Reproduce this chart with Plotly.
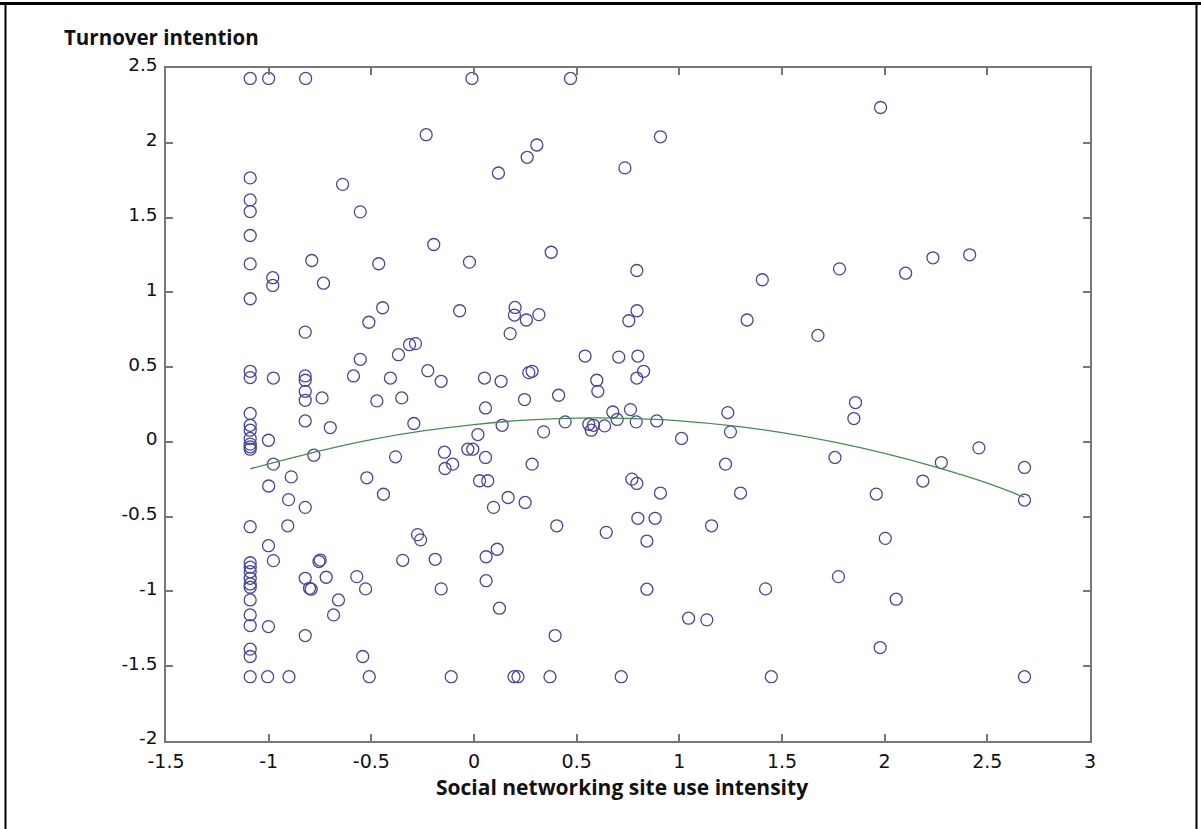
import plotly.graph_objects as go

# ---- data ----
col_x = -1.09
col_y = [2.43, 1.765, 1.618, 1.54, 1.38, 1.19, 0.957, 0.472, 0.43, 0.19, 0.111, 0.078,
         0.023, -0.015, -0.033, -0.049, -0.567, -0.808, -0.838, -0.868, -0.912, -0.95,
         -0.972, -1.057, -1.157, -1.228, -1.386, -1.435, -1.57]

pts_x = [-1.00, -0.82, -0.01, 0.47, -0.98, -0.98, -0.64, -0.554, -0.79, -0.733, -0.464,
         -0.233, -0.196, -0.445, -0.512, -0.07, -0.822, 0.908, 0.306, 0.259, 0.119, 0.735,
         0.376, -0.022, 0.793, 1.404, 1.78, 1.98, 2.102, 2.235, 2.414, 0.2, 0.197, 0.255,
         0.316, 0.176, 0.794, 0.754, 1.33, 1.675, -0.554, -0.368, -0.314, -0.285, -0.587,
         -0.407, -0.225, -0.16, -0.977, -0.822, -0.822, -0.822, -0.822, -0.822, -0.74,
         -0.70, -0.473, -0.352, -0.293, -1.001, -0.977, -0.78, -0.382, -0.144, -0.104,
         -0.141, -1.0, -0.89, -0.522, -0.441, -0.903, 0.541, 0.705, 0.798, 0.267, 0.283,
         0.826, 0.793, 0.051, 0.132, 0.598, 0.603, 0.246, 0.412, 0.056, 0.676, 0.762,
         1.236, 0.137, 0.444, 0.559, 0.582, 0.571, 0.636, 0.697, 0.79, 0.89, 1.249, 1.011,
         0.339, 0.019, -0.03, -0.006, 0.056, 0.283, 1.225, 1.758, 0.027, 0.067, 0.769,
         0.793, 0.166, 0.249, 0.095, 0.908, 1.298, 1.858, 1.85, 2.459, 2.276, 2.681, 2.186,
         1.959, 2.681, -0.822, -0.907, -1.001, -0.977, -0.749, -0.755, -0.822, -0.72,
         -0.801, -0.793, -0.66, -0.684, -1.001, -0.822, -0.571, -0.528, -0.542, -0.347,
         -0.275, -0.26, -0.189, -0.16, 0.403, 0.644, 0.798, 0.882, 0.842, 1.157, 0.113,
         0.059, 0.059, 0.124, 0.842, 1.42, 1.045, 1.134, 0.395, 2.003, 1.775, 2.056, 1.978,
         -1.005, -0.901, -0.51, -0.111, 0.195, 0.214, 0.37, 0.717, 1.448, 2.681]
pts_y = [2.43, 2.43, 2.43, 2.43, 1.098, 1.046, 1.722, 1.538, 1.213, 1.061, 1.191,
         2.054, 1.32, 0.897, 0.80, 0.877, 0.734, 2.04, 1.985, 1.903, 1.798, 1.832,
         1.268, 1.202, 1.146, 1.084, 1.157, 2.236, 1.128, 1.231, 1.251, 0.899, 0.848, 0.815,
         0.851, 0.724, 0.877, 0.81, 0.815, 0.712, 0.552, 0.583, 0.65, 0.657, 0.441,
         0.427, 0.476, 0.405, 0.427, 0.441, 0.412, 0.338, 0.278, 0.14, 0.294,
         0.096, 0.274, 0.294, 0.123, 0.011, -0.149, -0.089, -0.10, -0.069, -0.149,
         -0.178, -0.295, -0.234, -0.24, -0.35, -0.386, 0.574, 0.567, 0.574, 0.463, 0.472,
         0.472, 0.427, 0.427, 0.405, 0.412, 0.338, 0.283, 0.312, 0.227, 0.20, 0.216,
         0.196, 0.111, 0.134, 0.118, 0.111, 0.078, 0.107, 0.15, 0.134, 0.14, 0.067, 0.023,
         0.067, 0.049, -0.049, -0.049, -0.104, -0.149, -0.149, -0.104, -0.26, -0.26, -0.249,
         -0.278, -0.372, -0.405, -0.438, -0.342, -0.342, 0.263, 0.156, -0.04, -0.138, -0.171, -0.262,
         -0.349, -0.389, -0.438, -0.561, -0.694, -0.794, -0.79, -0.80, -0.912, -0.905,
         -0.979, -0.985, -1.057, -1.157, -1.235, -1.295, -0.901, -0.983, -1.435, -0.792,
         -0.62, -0.655, -0.785, -0.983, -0.561, -0.605, -0.511, -0.511, -0.663, -0.561, -0.718,
         -0.768, -0.928, -1.112, -0.985, -0.983, -1.179, -1.19, -1.295, -0.645, -0.901, -1.052, -1.375,
         -1.57, -1.57, -1.57, -1.57, -1.57, -1.57, -1.57, -1.57, -1.57, -1.57]

# fitted curve
fit_x = [-1.09, -0.75, -0.5, -0.25, 0.0, 0.25, 0.5, 0.75, 1.0, 1.25, 1.5, 1.75, 2.0, 2.25, 2.5, 2.68]
fit_y = [-0.18, -0.06, 0.015, 0.073, 0.116, 0.145, 0.159, 0.157, 0.141, 0.109, 0.062, 0.0,
         -0.077, -0.169, -0.276, -0.37]

x_ticks = [-1.5, -1, -0.5, 0, 0.5, 1, 1.5, 2, 2.5, 3]
x_tick_text = ["-1.5", "-1", "-0.5", "0", "0.5", "1", "1.5", "2", "2.5", "3"]
y_ticks = [-2, -1.5, -1, -0.5, 0, 0.5, 1, 1.5, 2, 2.5]
y_tick_text = ["-2", "-1.5", "-1", "-0.5", "0", "0.5", "1", "1.5", "2", "2.5"]

all_x = [col_x] * len(col_y) + pts_x
all_y = col_y + pts_y

fig = go.Figure()
fig.add_trace(go.Scatter(
    x=all_x, y=all_y, mode="markers",
    marker=dict(symbol="circle-open", size=12, color="rgb(70,70,155)", line=dict(width=1.3)),
    showlegend=False, cliponaxis=False))
fig.add_trace(go.Scatter(
    x=fit_x, y=fit_y, mode="lines", line=dict(color="rgb(70,140,80)", width=1.3, shape="spline"),
    showlegend=False))

axis_common = dict(showline=True, linecolor="#777777", linewidth=1.5, mirror="ticks",
                   ticks="inside", ticklen=7, tickcolor="#777777", tickwidth=1.5,
                   showgrid=False, zeroline=False)

fig.update_xaxes(range=[-1.5, 3], tickvals=x_ticks, ticktext=x_tick_text,
                 tickfont=dict(family="DejaVu Sans", size=19, color="#111"),
                 ticklabelstandoff=2, **axis_common)
fig.update_yaxes(range=[-2, 2.5], tickvals=y_ticks, ticktext=y_tick_text, ticklabelstandoff=3,
                 ticklabelshift=-3,
                 tickfont=dict(family="DejaVu Sans", size=18.5, color="#111"),
                 **axis_common)

L, R, T, B = 166, 1090, 68, 741
W, H = 1201, 829
pw, ph = R - L, B - T

def px_x(p):
    return (p - L) / pw

def px_y(p):
    return (B - p) / ph

fig.update_layout(
    width=W, height=H,
    margin=dict(l=L, r=W - R, t=T, b=H - B, pad=0),
    paper_bgcolor="white", plot_bgcolor="white",
    annotations=[
        dict(text="<b>Turnover intention</b>", xref="paper", yref="paper",
             x=px_x(62), y=px_y(37), xanchor="left", yanchor="middle", showarrow=False,
             font=dict(family="Open Sans", size=20.5, color="#111")),
        dict(text="<b>Social networking site use intensity</b>", xref="paper", yref="paper",
             x=px_x(622), y=px_y(787), xanchor="center", yanchor="middle", showarrow=False,
             font=dict(family="Open Sans", size=21, color="#111")),
    ],
    shapes=[
        dict(type="rect", xref="paper", yref="paper", x0=px_x(0), x1=px_x(1201),
             y0=px_y(5), y1=px_y(2), fillcolor="black", line=dict(width=0), layer="above"),
        dict(type="line", xref="paper", yref="paper", x0=px_x(5.5), x1=px_x(5.5),
             y0=px_y(3), y1=px_y(835), line=dict(color="black", width=2)),
        dict(type="line", xref="paper", yref="paper", x0=px_x(1196.5), x1=px_x(1196.5),
             y0=px_y(3), y1=px_y(835), line=dict(color="black", width=2)),
    ],
)

fig.write_html("out.html")
